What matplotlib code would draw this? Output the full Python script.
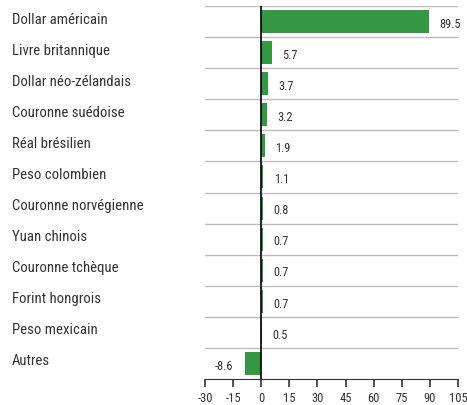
import matplotlib.pyplot as plt
from matplotlib import font_manager

currencies = ["Dollar américain", "Livre britannique", "Dollar néo-zélandais",
              "Couronne suédoise", "Réal brésilien", "Peso colombien",
              "Couronne norvégienne", "Yuan chinois", "Couronne tchèque",
              "Forint hongrois", "Peso mexicain", "Autres"]
values = [89.5, 5.7, 3.7, 3.2, 1.9, 1.1, 0.8, 0.7, 0.7, 0.7, 0.5, -8.6]
xticks = [-30, -15, 0, 15, 30, 45, 60, 75, 90, 105]

names = {f.name for f in font_manager.fontManager.ttflist}
family = "Roboto Condensed" if "Roboto Condensed" in names else "Roboto"
plt.rcParams['font.family'] = [family, 'DejaVu Sans']

fig = plt.figure(figsize=(4.67, 4.05), dpi=100)
ax = fig.add_axes([205 / 467, 1 - 379 / 405, 253 / 467, 373 / 405])

ypos = list(range(len(currencies)))
ax.barh(ypos, values, height=0.74, color="#359744", zorder=2)
ax.axvline(0, color="black", lw=1.2, zorder=3)

# separator lines between rows
for k in range(len(currencies)):
    ax.axhline(k - 0.5, color="#bdbdbd", lw=1, zorder=1)

for y, v in zip(ypos, values):
    if v >= 0:
        ax.annotate(f"{v:.1f}", (v, y), xytext=(7.5, -2), textcoords="offset points",
                    ha="left", va="center", fontsize=8.8, color="#333333")
    else:
        ax.annotate(f"{v:.1f}", (v, y), xytext=(-9, -2), textcoords="offset points",
                    ha="right", va="center", fontsize=8.8, color="#333333")

# category labels at the far left of the figure
for y, name in zip(ypos, currencies):
    ax.annotate(name, (0, y), xycoords=("figure fraction", "data"),
                xytext=(12, 2), textcoords="offset pixels",
                ha="left", va="center", fontsize=10.6, color="#333333")

ax.set_xlim(-30, 105)
ax.set_ylim(11.5, -0.5)
ax.set_xticks(xticks)
ax.set_xticklabels([str(t) for t in xticks], fontsize=9, color="#333333")
ax.set_yticks([])
for side in ["top", "right", "left"]:
    ax.spines[side].set_visible(False)
ax.spines["bottom"].set_color("#333333")
ax.tick_params(axis="x", length=6, width=1.2, color="#333333", pad=3)

fig.savefig("out.png", dpi=100)
